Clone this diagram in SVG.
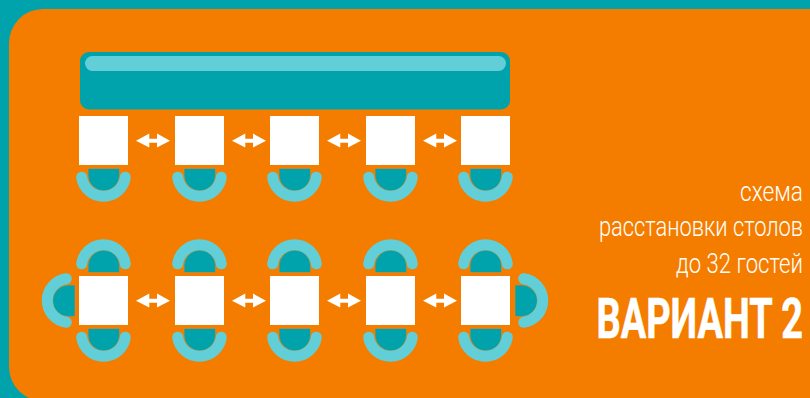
<svg xmlns="http://www.w3.org/2000/svg" width="810" height="398" viewBox="0 0 810 398">
<style>
.table{fill:#fff}
.seat{fill:#00a2ac;stroke:#e8892a;stroke-width:.5}
.back{fill:none;stroke:#62cfd8;stroke-width:11;stroke-linecap:round}
.arrow{fill:#fff}
.t{fill:#fff;font-family:Roboto,"Open Sans",sans-serif;font-weight:300;font-size:27px;text-anchor:end}
.b{fill:#fff;font-family:Roboto,"Open Sans",sans-serif;font-weight:700;font-size:55px;stroke:#fff;stroke-width:.6;text-anchor:end}
</style>
<defs>
<g id="chair">
<path class="seat" d="M88.1 168.5H119.5V175.2A15.7 15.7 0 0 1 88.1 175.2Z"/>
<path class="back" d="M81.7 177.2A22 22 0 0 0 125.3 177.2"/>
</g>
<path id="arr" d="M136 140.7L149.3 133.6V138.7H157V133.6L170 140.7L157 147.6V142.7H149.3V147.6Z"/>
</defs>
<rect width="810" height="398" fill="#00a2ac"/>
<rect x="9" y="9" width="900" height="392" rx="34" fill="#f47d00"/>
<g id="bar">
<rect x="80" y="52" width="430" height="57.5" rx="9" fill="#00a2ac"/>
<rect x="85" y="56" width="421" height="15" rx="7.5" fill="#62cfd8"/>
</g>
<g id="connectors">
<use href="#arr" class="arrow"/>
<use href="#arr" class="arrow" x="96"/>
<use href="#arr" class="arrow" x="191"/>
<use href="#arr" class="arrow" x="287"/>
<use href="#arr" class="arrow" y="160"/>
<use href="#arr" class="arrow" x="96" y="160"/>
<use href="#arr" class="arrow" x="191" y="160"/>
<use href="#arr" class="arrow" x="287" y="160"/>
</g>
<g id="top-1"><use href="#chair"/><rect class="table" x="79" y="116" width="49" height="49"/></g>
<g id="top-2"><use href="#chair" x="96"/><rect class="table" x="175" y="116" width="49" height="49"/></g>
<g id="top-3"><use href="#chair" x="191"/><rect class="table" x="270" y="116" width="49" height="49"/></g>
<g id="top-4"><use href="#chair" x="287"/><rect class="table" x="366" y="116" width="49" height="49"/></g>
<g id="top-5"><use href="#chair" x="382"/><rect class="table" x="461" y="116" width="49" height="49"/></g>
<g id="bottom-1">
<use href="#chair" y="160"/>
<use href="#chair" transform="matrix(1 0 0 -1 0 441)"/>
<use href="#chair" transform="matrix(0 1 -1 0 243.5 197)"/>
<rect class="table" x="79" y="276" width="49" height="49"/>
</g>
<g id="bottom-2"><use href="#chair" x="96" y="160"/><use href="#chair" x="96" transform="matrix(1 0 0 -1 0 441)"/><rect class="table" x="175" y="276" width="49" height="49"/></g>
<g id="bottom-3"><use href="#chair" x="191" y="160"/><use href="#chair" x="191" transform="matrix(1 0 0 -1 0 441)"/><rect class="table" x="270" y="276" width="49" height="49"/></g>
<g id="bottom-4"><use href="#chair" x="287" y="160"/><use href="#chair" x="287" transform="matrix(1 0 0 -1 0 441)"/><rect class="table" x="366" y="276" width="49" height="49"/></g>
<g id="bottom-5">
<use href="#chair" x="382" y="160"/>
<use href="#chair" x="382" transform="matrix(1 0 0 -1 0 441)"/>
<use href="#chair" transform="matrix(0 1 1 0 346.5 197)"/>
<rect class="table" x="461" y="276" width="49" height="49"/>
</g>
<g id="caption">
<text class="t" transform="translate(803 201) scale(.84 1)">схема</text>
<text class="t" transform="translate(803 236) scale(.81 1)">расстановки столов</text>
<text class="t" transform="translate(803 273) scale(.82 1)">до 32 гостей</text>
<text class="b" transform="translate(803 338) scale(.69 1)">ВАРИАНТ 2</text>
</g>
</svg>
